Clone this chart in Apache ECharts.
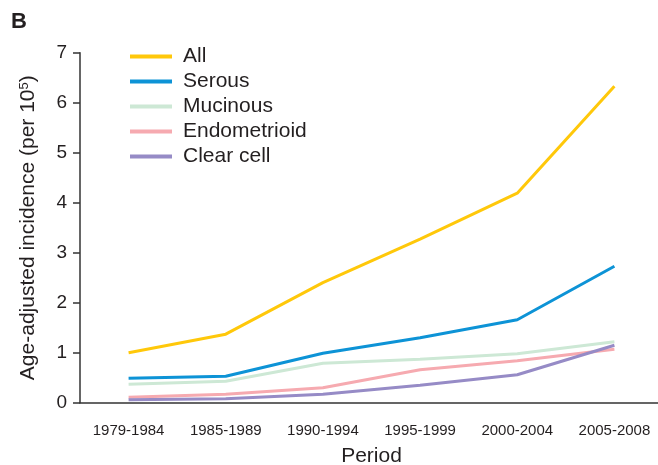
<!DOCTYPE html>
<html>
<head>
<meta charset="utf-8">
<script src="https://cdn.jsdelivr.net/npm/echarts@6/dist/echarts.min.js"></script>
<style>
  html, body { margin: 0; padding: 0; background: #fff; }
  #chart { width: 658px; height: 465px; }
</style>
</head>
<body>
<div id="chart"></div>
<script>
var periods = ['1979-1984', '1985-1989', '1990-1994', '1995-1999', '2000-2004', '2005-2008'];
var allTypes = [1.0, 1.37, 2.4, 3.27, 4.19, 6.33];
var serous = [0.49, 0.53, 0.99, 1.3, 1.66, 2.73];
var mucinous = [0.37, 0.43, 0.79, 0.87, 0.98, 1.22];
var endometrioid = [0.11, 0.17, 0.3, 0.66, 0.84, 1.07];
var clearCell = [0.06, 0.08, 0.17, 0.35, 0.56, 1.15];
var yTicks = [0, 1, 2, 3, 4, 5, 6, 7];

var chart = echarts.init(document.getElementById('chart'));
var font = '"Liberation Sans", Arial, sans-serif';
var txt = '#231f20';

function line(name, data, color) {
  return {
    name: name,
    type: 'line',
    data: data,
    symbol: 'none',
    lineStyle: { color: color, width: 3 },
    itemStyle: { color: color }
  };
}

var option = {
  animation: false,
  textStyle: { fontFamily: font },
  title: {
    text: 'B',
    left: 11,
    top: 11,
    padding: 0,
    textStyle: { fontSize: 22, fontWeight: 'bold', color: txt, fontFamily: font }
  },
  legend: {
    orient: 'vertical',
    left: 130,
    top: 44,
    icon: 'rect',
    itemWidth: 42,
    itemHeight: 4,
    itemGap: 0,
    padding: 0,
    textStyle: { fontSize: 21, color: txt, lineHeight: 25, padding: [0, 0, 0, 6], fontFamily: font }
  },
  grid: { left: 80, right: -5, top: 52.7, bottom: 62.3, outerBoundsMode: 'none', containLabel: false },
  xAxis: {
    type: 'category',
    data: periods,
    boundaryGap: true,
    name: 'Period',
    nameLocation: 'middle',
    nameGap: 43,
    nameTextStyle: { fontSize: 21, color: txt, fontFamily: font },
    axisLine: { lineStyle: { color: '#333', width: 1.5 } },
    axisTick: { alignWithLabel: false, length: 7, lineStyle: { color: '#333', width: 1.5 } },
    axisLabel: { fontSize: 15, color: txt, margin: 21, interval: 0, fontFamily: font }
  },
  yAxis: {
    type: 'value',
    min: yTicks[0],
    max: yTicks[yTicks.length - 1],
    interval: 1,
    name: 'Age-adjusted incidence (per 10{sup|5})',
    nameLocation: 'middle',
    nameGap: 41,
    nameTextStyle: {
      fontSize: 21,
      color: txt,
      fontFamily: font,
      rich: { sup: { fontSize: 13, verticalAlign: 'top', lineHeight: 13, color: txt, fontFamily: font } }
    },
    splitLine: { show: false },
    axisLine: { show: true, lineStyle: { color: '#333', width: 1.5 } },
    axisTick: { show: true, length: 7, lineStyle: { color: '#333', width: 1.5 } },
    axisLabel: { fontSize: 19, color: txt, margin: 13, fontFamily: font }
  },
  series: [
    line('All', allTypes, '#ffc80a'),
    line('Serous', serous, '#0d93d6'),
    line('Mucinous', mucinous, '#cde8d5'),
    line('Endometrioid', endometrioid, '#f6aab0'),
    line('Clear cell', clearCell, '#968bc6')
  ]
};

chart.setOption(option);
</script>
</body>
</html>
